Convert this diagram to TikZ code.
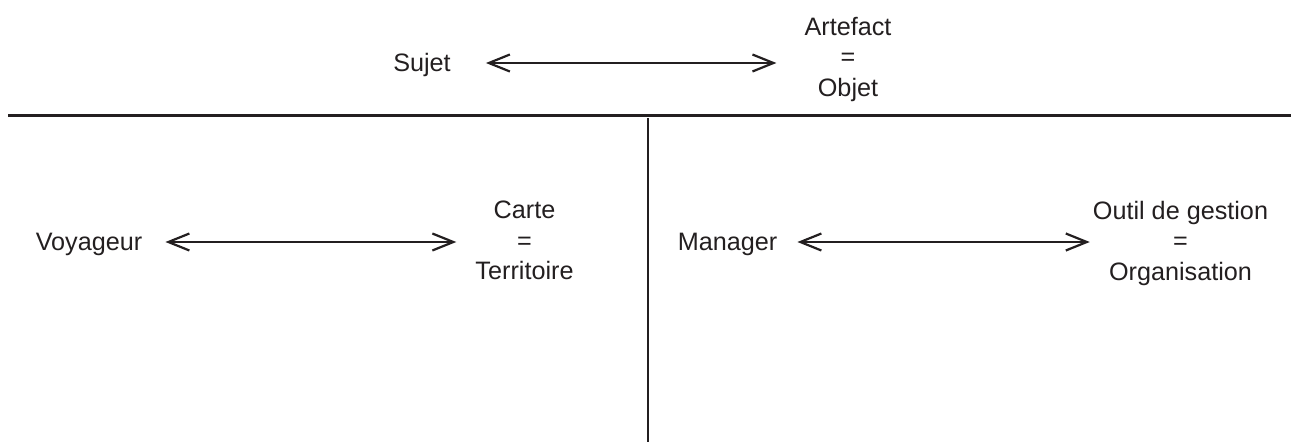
\documentclass[tikz,border=0pt]{standalone}
\usepackage{fontspec}
\setmainfont{Liberation Sans}
\usetikzlibrary{arrows.meta}
\definecolor{ink}{RGB}{35,31,32}
\begin{document}
\begin{tikzpicture}[x=1pt,y=-1pt,
  lbl/.style={inner sep=0pt,font=\fontsize{25.2}{30.5}\selectfont,text=ink},
  blk/.style={lbl,align=center},
  dblarrow/.style={line width=2.2pt,ink,{Straight Barb[length=21pt,width=17pt,line width=2.2pt]}-{Straight Barb[length=21pt,width=17pt,line width=2.2pt]}},
  rule/.style={line width=3pt,ink}]
\useasboundingbox (0,0) rectangle (1291,442);
% labels
\node[lbl,anchor=base] (sujet) at (422,71) {Sujet};
\node[blk] (artefact) at (848,59.2) {Artefact\\=\\Objet};
\node[lbl,anchor=base] (voyageur) at (89,250) {Voyageur};
\node[blk] (carte) at (524.5,240.8) {Carte\\=\\Territoire};
\node[lbl,anchor=base] (manager) at (727.5,250) {Manager};
\node[blk] (outil) at (1180.5,243.3) {Outil de gestion\\=\\Organisation};
% rules
\coordinate (hl) at (8,115);
\coordinate (hr) at (1291,115);
\coordinate (vt) at (648,118);
\coordinate (vb) at (648,442);
\draw[rule] (hl) -- (hr);
\draw[line width=2.6pt,ink] (vt) -- (vb);
% arrows
\draw[dblarrow] ([xshift=35pt,yshift=8pt]sujet.base east) -- ([xshift=-28pt,yshift=8pt]sujet.base east -| artefact.west);
\draw[dblarrow] ([xshift=23pt,yshift=8pt]voyageur.base east) -- ([xshift=-19pt,yshift=8pt]voyageur.base east -| carte.west);
\draw[dblarrow] ([xshift=20pt,yshift=8pt]manager.base east) -- ([xshift=-3pt,yshift=8pt]manager.base east -| outil.west);
\end{tikzpicture}
\end{document}
